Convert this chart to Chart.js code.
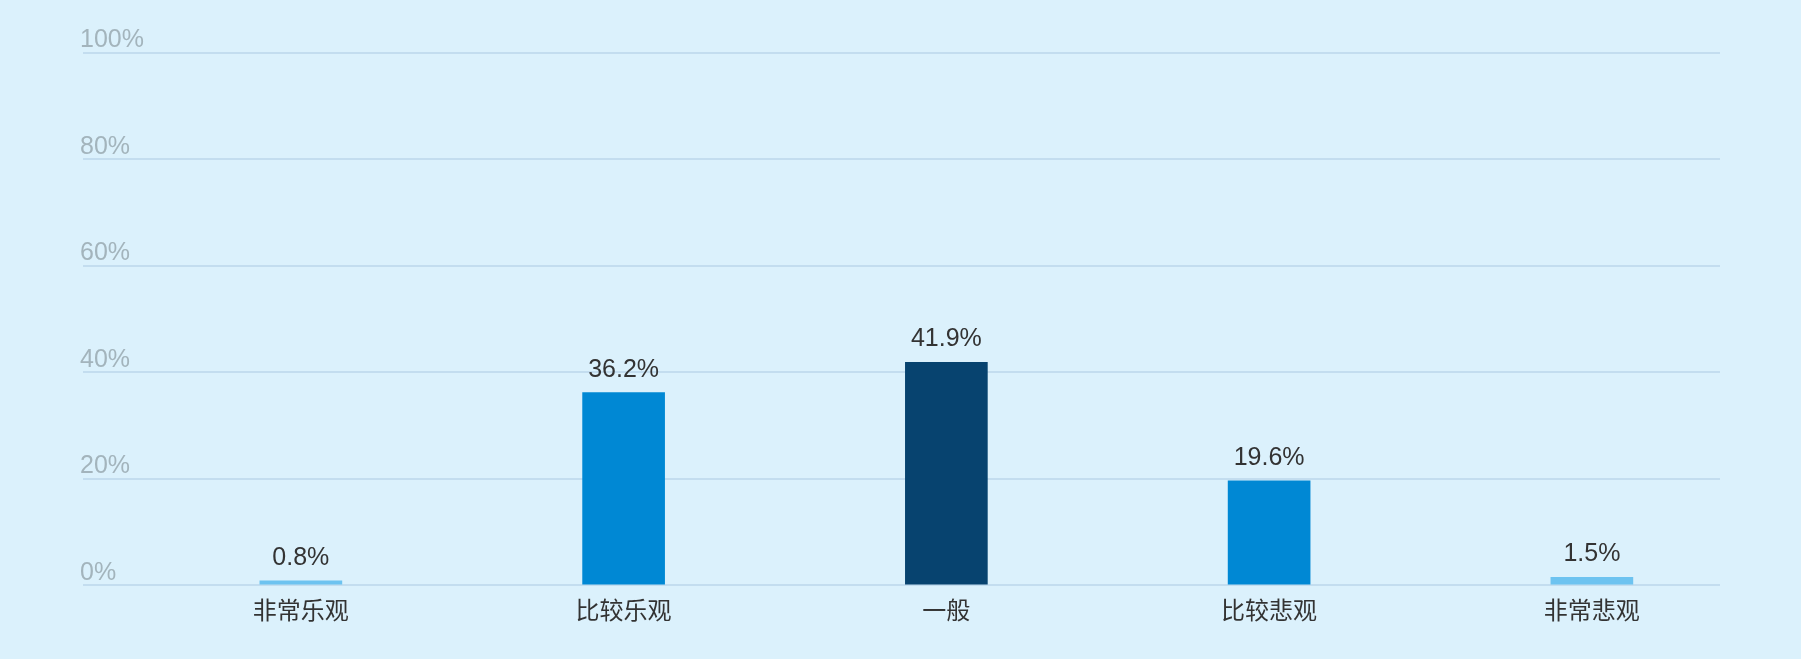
<!DOCTYPE html>
<html lang="zh">
<head>
    <meta charset="UTF-8">
    <title>预期</title>
    <style>
        html, body { margin: 0; padding: 0; background: #dbf1fc; }
        #wrap { width: 1801px; height: 659px; position: relative; }
    </style>
</head>
<body>
<div id="wrap">
    <canvas id="myChart"></canvas>
</div>

<script src="https://cdn.jsdelivr.net/npm/chart.js@4/dist/chart.umd.min.js"></script>
<script>
// data
var categories = ['非常乐观', '比较乐观', '一般', '比较悲观', '非常悲观'];
var values = [0.8, 36.2, 41.9, 19.6, 1.5];
var barColors = ['#6dc3f0', '#0088d4', '#07436f', '#0088d4', '#6dc3f0'];
var yTicks = [0, 20, 40, 60, 80, 100];

var fontFamily = "'Liberation Sans', Arial, 'Noto Sans CJK SC', sans-serif";

// labels above bars
var valueLabels = {
    id: 'valueLabels',
    afterDatasetsDraw: function(chart) {
        var ctx = chart.ctx;
        var meta = chart.getDatasetMeta(0);
        ctx.save();
        ctx.font = '25px ' + fontFamily;
        ctx.fillStyle = '#333333';
        ctx.textAlign = 'center';
        ctx.textBaseline = 'alphabetic';
        meta.data.forEach(function(bar, i) {
            ctx.fillText(values[i].toFixed(1) + '%', bar.x, bar.y - 16);
        });
        ctx.restore();
    }
};

var points = values.map(function(v, i) { return { x: i, y: v }; });

var ctx = document.getElementById('myChart').getContext('2d');
var myChart = new Chart(ctx, {
    type: 'bar',
    data: {
        datasets: [{
            data: points,
            backgroundColor: barColors,
            barThickness: 82,
            borderWidth: 0
        }]
    },
    options: {
        responsive: true,
        maintainAspectRatio: false,
        animation: false,
        layout: { padding: { left: 83, right: 81, top: 53, bottom: 19 } },
        plugins: { legend: { display: false }, tooltip: { enabled: false } },
        scales: {
            x: {
                type: 'linear',
                offset: false,
                min: -0.675,
                max: 4.397,
                grid: { display: false, drawTicks: false, offset: false },
                border: { display: false },
                ticks: {
                    stepSize: 1,
                    includeBounds: false,
                    autoSkip: false,
                    maxRotation: 0,
                    padding: 13,
                    color: '#333333',
                    font: { size: 24, family: fontFamily },
                    callback: function(v) { return categories[v]; }
                }
            },
            y: {
                min: yTicks[0],
                max: yTicks[yTicks.length - 1],
                grid: { color: '#c3ddef', lineWidth: 2, drawTicks: false },
                border: { display: false },
                afterBuildTicks: function(scale) {
                    scale.ticks = yTicks.map(function(v) { return { value: v }; });
                },
                ticks: {
                    mirror: true,
                    align: 'end',
                    padding: -1,
                    color: '#a3b4bc',
                    font: { size: 25, family: fontFamily },
                    callback: function(v) { return v + '%'; }
                }
            }
        }
    },
    plugins: [valueLabels]
});
</script>
</body>
</html>
